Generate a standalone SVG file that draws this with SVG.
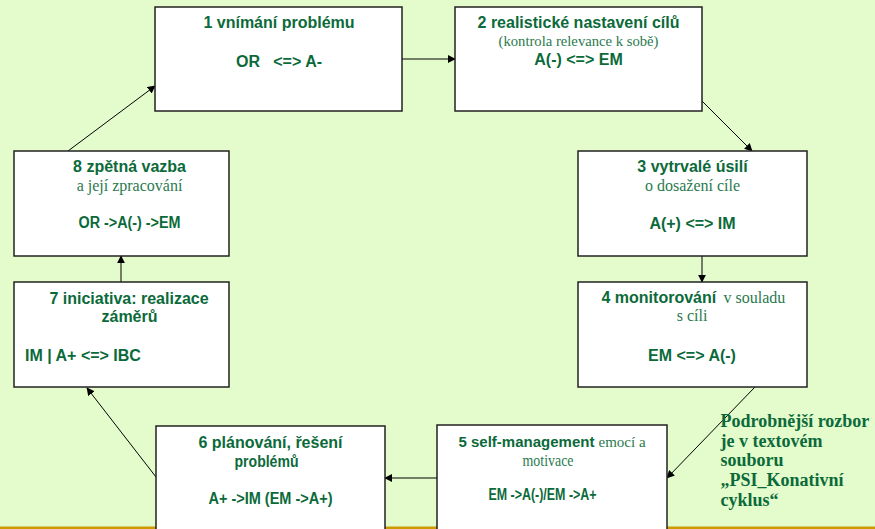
<svg xmlns="http://www.w3.org/2000/svg" width="875" height="529" viewBox="0 0 875 529">
<defs>
<style>
.bg{fill:#e4fccc}
.box{fill:#ffffff;stroke:#222222;stroke-width:1.5}
.b{font-family:"Liberation Sans",Arial,sans-serif;font-weight:bold;font-size:16px;fill:#0b6a3a}
.s{font-family:"Liberation Serif","Times New Roman",serif;font-size:16px;fill:#2a7a4e}
.n{font-family:"Liberation Serif","Times New Roman",serif;font-weight:bold;font-size:18px;fill:#0b6a3a}
.c{stroke:#000000;stroke-width:1;fill:none;marker-end:url(#ah)}
</style>
<marker id="ah" viewBox="0 0 10 10" refX="9" refY="5" markerWidth="8" markerHeight="8" markerUnits="userSpaceOnUse" orient="auto">
<path d="M0,0 L10,5 L0,10 z" fill="#000000"/>
</marker>
</defs>
<rect class="bg" x="0" y="0" width="875" height="529"/>
<rect x="0" y="526.5" width="875" height="2.5" fill="#cc9900"/>

<g id="connectors">
<line class="c" x1="402" y1="59" x2="455" y2="59"/>
<line class="c" x1="702" y1="101" x2="752" y2="151"/>
<line class="c" x1="702" y1="256" x2="702" y2="282"/>
<line class="c" x1="755" y1="387" x2="667" y2="478"/>
<line class="c" x1="437" y1="478" x2="385" y2="478"/>
<line class="c" x1="156" y1="477" x2="87" y2="388"/>
<line class="c" x1="121" y1="282" x2="121" y2="256"/>
<line class="c" x1="68" y1="151" x2="155" y2="86"/>
</g>

<g id="node1">
<rect class="box" x="155" y="7" width="247" height="104"/>
<text class="b" text-anchor="middle" x="279" y="28">1 vnímání problému</text>
<text class="b" text-anchor="middle" x="279" y="67" xml:space="preserve">OR   &lt;=&gt; A-</text>
</g>

<g id="node2">
<rect class="box" x="455" y="7" width="247" height="104"/>
<text class="b" text-anchor="middle" x="578.5" y="28">2 realistické nastavení cílů</text>
<text class="s" style="font-size:15px" x="498.5" y="46" textLength="160" lengthAdjust="spacingAndGlyphs">(kontrola relevance k sobě)</text>
<text class="b" text-anchor="middle" x="578.5" y="65">A(-) &lt;=&gt; EM</text>
</g>

<g id="node3">
<rect class="box" x="578" y="151" width="229" height="105"/>
<text class="b" text-anchor="middle" x="692.5" y="172">3 vytrvalé úsilí</text>
<text class="s" text-anchor="middle" x="692.5" y="191">o dosažení cíle</text>
<text class="b" text-anchor="middle" x="692.5" y="229">A(+) &lt;=&gt; IM</text>
</g>

<g id="node4">
<rect class="box" x="578" y="282" width="229" height="105"/>
<text class="b" x="601.5" y="303">4 monitorování</text>
<text class="s" x="723.5" y="303">v souladu</text>
<text class="s" text-anchor="middle" x="692" y="321">s cíli</text>
<text class="b" text-anchor="middle" x="692" y="360.5">EM &lt;=&gt; A(-)</text>
</g>

<g id="node5">
<rect class="box" x="437" y="425" width="230" height="110"/>
<text class="b" style="font-size:15px" x="458.5" y="447">5 self-management</text>
<text class="s" style="font-size:15px" x="598.5" y="447">emocí a</text>
<text class="s" x="522.5" y="465.5" textLength="51" lengthAdjust="spacingAndGlyphs">motivace</text>
<text class="b" x="488.5" y="500" textLength="108" lengthAdjust="spacingAndGlyphs">EM -&gt;A(-)/EM -&gt;A+</text>
</g>

<g id="node6">
<rect class="box" x="156" y="426" width="229" height="109"/>
<text class="b" text-anchor="middle" x="270.5" y="448">6 plánování, řešení</text>
<text class="b" x="234.5" y="466.5" textLength="64" lengthAdjust="spacingAndGlyphs">problémů</text>
<text class="b" x="208.5" y="503.5" textLength="124" lengthAdjust="spacingAndGlyphs">A+ -&gt;IM (EM -&gt;A+)</text>
</g>

<g id="node7">
<rect class="box" x="14" y="282" width="215" height="105"/>
<text class="b" text-anchor="middle" x="129" y="304">7 iniciativa: realizace</text>
<text class="b" text-anchor="middle" x="129.5" y="322">záměrů</text>
<text class="b" x="25" y="360.5">IM | A+ &lt;=&gt; IBC</text>
</g>

<g id="node8">
<rect class="box" x="14" y="151" width="215" height="105"/>
<text class="b" text-anchor="middle" x="129.5" y="172">8 zpětná vazba</text>
<text class="s" text-anchor="middle" x="129.5" y="190.5">a její zpracování</text>
<text class="b" x="78.5" y="228" textLength="102" lengthAdjust="spacingAndGlyphs">OR -&gt;A(-) -&gt;EM</text>
</g>

<g id="note">
<text class="n" x="720.5" y="427">Podrobnější rozbor</text>
<text class="n" x="720.5" y="447">je v textovém</text>
<text class="n" x="720.5" y="466">souboru</text>
<text class="n" x="720.5" y="486">„PSI_Konativní</text>
<text class="n" x="720.5" y="506">cyklus“</text>
</g>
</svg>
